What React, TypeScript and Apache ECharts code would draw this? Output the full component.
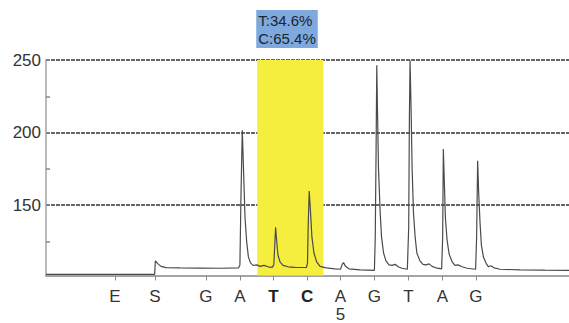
import React, { useEffect, useRef } from "react";
import * as echarts from "echarts";

// Dispensation order and the time (arbitrary run units) at which each one is injected
const dispLetters = ["E", "S", "G", "A", "T", "C", "A", "G", "T", "A", "G"];
const dispTimes = [20.3, 32.1, 47.1, 57.1, 67.0, 76.9, 86.7, 96.7, 106.7, 116.7, 126.6];
// Dispensations of the variable position, printed in bold
const variableDisp = [4, 5];

// Allele quantification for the variable position
const alleles = ["T", "C"];
const allelePct = [34.6, 65.4];
const variableWindow = [62.2, 81.7];

// Y axis: ticks, labelled values and grid lines
const yTicks = [125, 150, 175, 200, 225, 250];
const yLabels = [150, 200, 250];
const gridValues = [150, 200, 250];

// Light signal trace
const traceTime = [
  0, 32.0, 32.2, 32.98, 33.86, 35.3, 39.5, 45.3, 51.2, 56.7,
  57.1, 57.4, 57.8, 58.15, 58.6, 59.1, 59.6, 60.2, 61.0, 62.1, 63.0, 64.2, 65.4, 66.6,
  67.08, 67.4, 67.6, 67.95, 68.3, 68.9, 69.8, 71.3, 73.3, 75.4, 76.7,
  77.0, 77.2, 77.5, 77.9, 78.3, 78.9, 79.7, 80.7, 82.5, 85.1, 86.7,
  87.3, 87.6, 88.2, 89.2, 92.5, 96.7,
  96.95, 97.2, 97.4, 97.6, 97.9, 98.4, 98.8, 99.4, 100.1, 101.0, 101.9, 102.8, 103.7, 104.8, 106.4,
  106.8, 107.0, 107.2, 107.5, 107.8, 108.2, 108.7, 109.2, 110.1, 111.0, 111.9, 112.8, 113.7, 114.8, 116.5,
  116.8, 117.0, 117.3, 117.6, 118.1, 118.7, 119.6, 120.4, 121.3, 122.5, 124.0, 126.5,
  126.8, 127.1, 127.4, 127.8, 128.2, 128.8, 129.6, 130.3, 131.0, 131.9, 133.7, 139.6, 146.9, 154,
];
const traceSignal = [
  102.3, 102.3, 111.6, 109.5, 107.8, 106.9, 106.7, 106.6, 106.5, 106.8,
  108.8, 155, 201.6, 175.5, 141.5, 124.5, 114.3, 110.2, 108.5, 108.8, 107.8, 108.5, 107.5, 107.1,
  108.8, 124.5, 134.7, 124.5, 115.6, 110.9, 108.5, 107.5, 107.1, 107.0, 107.1,
  110.2, 134.7, 159.7, 144.9, 127.9, 117.0, 110.9, 107.8, 106.8, 106.1, 105.8,
  109.5, 110.4, 107.8, 106.1, 105.4, 105.1,
  127.9, 189.1, 246.3, 216.3, 175.5, 144.9, 127.9, 117.0, 111.6, 108.8, 108.5, 109.2, 107.5, 106.5, 105.8,
  134.7, 209.5, 249.7, 216.3, 175.5, 144.9, 127.9, 117.0, 111.6, 109.2, 108.8, 109.5, 107.8, 106.8, 106.1,
  127.9, 188.6, 165.2, 141.5, 125.9, 116.3, 110.9, 108.5, 108.8, 107.5, 106.5, 105.8,
  127.9, 180.5, 158.5, 138.1, 122.4, 114.3, 109.9, 107.5, 108.2, 106.8, 105.8, 105.4, 105.2, 105.1,
];

const FONT = "'Liberation Sans', Arial, Helvetica, sans-serif";

export default function App() {
  const ref = useRef<HTMLDivElement>(null);

  useEffect(() => {
    document.body.style.margin = "0";
    if (!ref.current) return;
    const chart = echarts.init(ref.current, undefined, { renderer: "svg" });

    const dispLabel = (value: number) => {
      const i = dispTimes.findIndex((t) => Math.abs(t - value) < 0.01);
      if (i < 0) return "";
      const style = variableDisp.includes(i) ? "b" : "n";
      let text = `{${style}|${dispLetters[i]}}`;
      const num = i - 1; // numbering starts at the first nucleotide
      if (num > 0 && num % 5 === 0) text += `\n{n|${num}}`;
      return text;
    };

    const boxText = alleles.map((a, i) => `${a}:${allelePct[i].toFixed(1)}%`).join("\n");

    chart.setOption({
      animation: false,
      grid: { left: 46, right: 0, top: 60, bottom: 44 },
      xAxis: {
        type: "value",
        min: 0,
        max: 154,
        axisLine: { show: true, lineStyle: { color: "#a4a4a4", width: 2 } },
        axisTick: {
          show: true,
          customValues: dispTimes,
          length: 5,
          lineStyle: { color: "#8a8a8a", width: 1 },
        },
        axisLabel: {
          show: true,
          customValues: dispTimes,
          margin: 12,
          formatter: dispLabel,
          verticalAlign: "top",
          rich: {
            n: { fontFamily: FONT, fontSize: 17, color: "#333", lineHeight: 18 },
            b: { fontFamily: FONT, fontSize: 17, color: "#222", fontWeight: "bold", lineHeight: 18 },
          },
        },
        splitLine: { show: false },
      },
      yAxis: {
        type: "value",
        min: 101.5,
        max: 250,
        axisLine: { show: true, lineStyle: { color: "#a4a4a4", width: 1.5 } },
        axisTick: {
          show: true,
          inside: true,
          length: 4,
          customValues: yTicks,
          lineStyle: { color: "#8a8a8a", width: 1.5 },
        },
        axisLabel: {
          show: true,
          customValues: yLabels,
          margin: 5,
          fontFamily: FONT,
          fontSize: 17,
          color: "#333",
          padding: [5, 0, 0, 0],
        },
        splitLine: { show: false },
      },
      series: [
        {
          type: "line",
          data: [],
          z: 0,
          silent: true,
          markLine: {
            silent: true,
            z: 0,
            symbol: "none",
            label: { show: false },
            lineStyle: { color: "#666", width: 2, type: [4, 1] },
            data: gridValues.map((v) => ({ yAxis: v })),
          },
        },
        {
          type: "line",
          z: 2,
          symbol: "none",
          showSymbol: false,
          lineStyle: { color: "#4a4a4a", width: 1.2 },
          data: traceTime.map((t, i) => [t, traceSignal[i]]),
          markArea: {
            silent: true,
            z: 1,
            itemStyle: { color: "#f6ee3e" },
            label: {
              show: true,
              position: [-1, -50],
              align: "left",
              verticalAlign: "top",
              formatter: () => boxText,
              fontFamily: FONT,
              fontSize: 15,
              lineHeight: 18,
              color: "#1c2430",
              backgroundColor: "#7ea9dd",
              padding: [1, 2, 1, 2],
            },
            data: [[{ xAxis: variableWindow[0] }, { xAxis: variableWindow[1] }]],
          },
        },
      ],
    });

    return () => chart.dispose();
  }, []);

  return <div ref={ref} style={{ width: 569, height: 323 }} />;
}
